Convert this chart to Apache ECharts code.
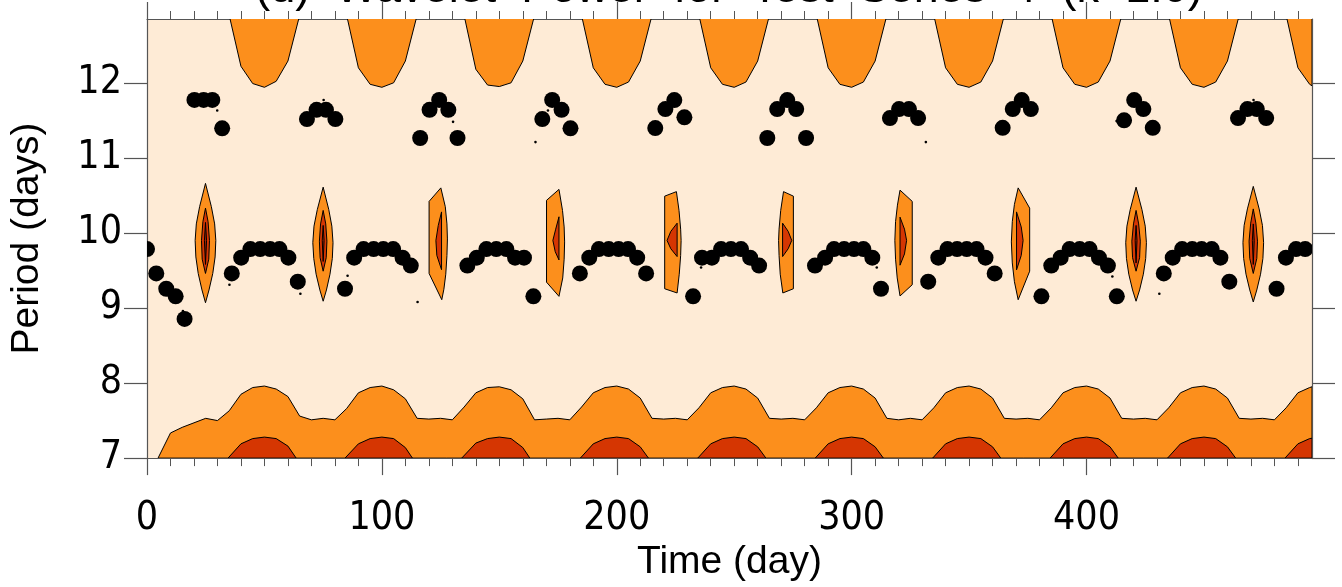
<!DOCTYPE html>
<html><head><meta charset="utf-8">
<script src="https://cdn.jsdelivr.net/npm/echarts@6/dist/echarts.min.js"></script>
<style>html,body{margin:0;padding:0;background:#fff}#c{width:1342px;height:587px}</style>
</head><body><div id="c"></div>
<script>
// ---------------- data ----------------
const titleText = '(d)  Wavelet  Power  for  Test  Series  4  (k=1.0)';
const xTicks = [0, 100, 200, 300, 400];
const yTicks = [7, 8, 9, 10, 11, 12];
const timeMax = 496;
const periodMin = 7, periodMax = 12.85;

// lower orange contour (level 1): boundary time / period
const lowBandT = [4.7,10,15,20,25,30,35,40,45,50,55,60,65,70,75,80,85,90,95,100,105,110,115,120,125,130,135,140,145,150,155,160,165,170,175,180,185,190,195,200,205,210,215,220,225,230,235,240,245,250,255,260,265,270,275,280,285,290,295,300,305,310,315,320,325,330,335,340,345,350,355,360,365,370,375,380,385,390,395,400,405,410,415,420,425,430,435,440,445,450,455,460,465,470,475,480,485,490,495,496];
const lowBandP = [7.0,7.335,7.41,7.47,7.53,7.50,7.63,7.85,7.94,7.96,7.92,7.82,7.56,7.51,7.53,7.51,7.66,7.87,7.94,7.96,7.91,7.79,7.53,7.52,7.53,7.51,7.68,7.87,7.94,7.95,7.91,7.79,7.51,7.52,7.53,7.51,7.68,7.87,7.94,7.96,7.92,7.80,7.53,7.52,7.53,7.51,7.67,7.87,7.94,7.96,7.92,7.80,7.53,7.52,7.53,7.51,7.67,7.87,7.94,7.96,7.92,7.80,7.53,7.51,7.53,7.51,7.67,7.87,7.94,7.96,7.92,7.80,7.53,7.52,7.53,7.51,7.67,7.87,7.94,7.96,7.92,7.80,7.53,7.52,7.53,7.51,7.67,7.87,7.94,7.96,7.92,7.80,7.53,7.52,7.53,7.51,7.67,7.87,7.94,7.95];

// lower dark-red contour (level 2) humps: [t,p, t,p, ...]
const lowHumps = [
  [34.5,7, 40,7.19, 45,7.26, 50,7.28, 55,7.26, 60,7.16, 63.5,7],
  [84.3,7, 90,7.19, 95,7.26, 100,7.28, 105,7.26, 110,7.14, 113,7],
  [134,7, 140,7.2, 145,7.26, 150,7.28, 155,7.26, 160,7.14, 163,7],
  [184.5,7, 190,7.19, 195,7.26, 200,7.28, 205,7.26, 210,7.15, 213.5,7],
  [234.5,7, 240,7.19, 245,7.26, 250,7.28, 255,7.26, 260,7.15, 263.5,7],
  [284.5,7, 290,7.19, 295,7.26, 300,7.28, 305,7.26, 310,7.15, 313.5,7],
  [334.5,7, 340,7.19, 345,7.26, 350,7.28, 355,7.26, 360,7.15, 363.5,7],
  [384.5,7, 390,7.19, 395,7.26, 400,7.28, 405,7.26, 410,7.15, 413.5,7],
  [434.5,7, 440,7.19, 445,7.26, 450,7.28, 455,7.26, 460,7.15, 463.5,7],
  [484.5,7, 490,7.19, 495,7.26, 496,7.265, 496,7]
];

// upper orange contour (level 1) lobes hanging from the top
const topLobes = [
  [35,12.9, 40,12.22, 45,11.99, 50,11.94, 55,12.02, 60,12.29, 65,12.9],
  [85,12.9, 90,12.2, 95,11.98, 100,11.94, 105,12.0, 110,12.29, 115,12.9],
  [135,12.9, 140,12.18, 145,11.97, 150,11.95, 155,12.0, 160,12.29, 165,12.9],
  [185,12.9, 190,12.2, 195,11.98, 200,11.94, 205,12.01, 210,12.29, 215,12.9],
  [235,12.9, 240,12.2, 245,11.98, 250,11.94, 255,12.01, 260,12.29, 265,12.9],
  [285,12.9, 290,12.2, 295,11.98, 300,11.94, 305,12.01, 310,12.29, 315,12.9],
  [335,12.9, 340,12.2, 345,11.98, 350,11.94, 355,12.01, 360,12.29, 365,12.9],
  [385,12.9, 390,12.2, 395,11.98, 400,11.94, 405,12.01, 410,12.29, 415,12.9],
  [435,12.9, 440,12.2, 445,11.98, 450,11.94, 455,12.01, 460,12.29, 465,12.9],
  [485,12.9, 490,12.2, 495,11.98, 496,11.96, 496,12.9]
];

// mid-period islands, level 1 (orange)
const islands1 = [
  [24.9,10.66, 27.4,10.35, 28.8,10.12, 29.3,9.9, 29.0,9.68, 28.0,9.46, 26.4,9.24, 24.9,9.07, 23.4,9.24, 21.8,9.46, 20.8,9.68, 20.5,9.9, 21.0,10.12, 22.4,10.35],
  [75.0,10.61, 77.4,10.31, 78.7,10.09, 79.2,9.87, 78.9,9.66, 77.9,9.45, 76.4,9.24, 75.0,9.09, 73.6,9.24, 72.0,9.45, 71.0,9.66, 70.6,9.87, 71.1,10.09, 72.5,10.31],
  [125.1,10.6, 127.0,10.35, 127.7,10.12, 127.9,9.92, 127.7,9.7, 127.2,9.45, 126.4,9.25, 125.5,9.11, 120.1,9.46, 120.1,10.42],
  [175.4,10.58, 176.9,10.3, 177.6,10.08, 177.8,9.88, 177.6,9.65, 177.0,9.4, 175.4,9.155, 170.1,9.344, 170.1,10.434],
  [225.4,10.55, 226.5,10.3, 227.2,10.05, 227.4,9.9, 227.2,9.7, 226.6,9.45, 225.7,9.2, 220.4,9.256, 220.4,10.49],
  [271.0,10.55, 275.2,10.49, 275.2,9.256, 270.7,9.2, 269.6,9.45, 269.1,9.7, 268.9,9.9, 269.1,10.05, 269.8,10.3],
  [320.6,10.57, 325.8,10.42, 325.8,9.31, 320.6,9.16, 319.4,9.4, 318.7,9.65, 318.4,9.9, 318.7,10.15, 319.5,10.37],
  [370.9,10.6, 375.8,10.33, 375.8,9.49, 370.9,9.11, 369.3,9.35, 368.4,9.6, 368.0,9.88, 368.4,10.15, 369.3,10.38],
  [421.1,10.61, 423.6,10.31, 425.0,10.09, 425.5,9.87, 425.2,9.66, 424.2,9.45, 422.6,9.24, 421.1,9.09, 419.6,9.24, 418.0,9.45, 417.0,9.66, 416.7,9.87, 417.2,10.09, 418.6,10.31],
  [471.0,10.62, 473.5,10.32, 474.9,10.1, 475.4,9.87, 475.1,9.66, 474.1,9.45, 472.5,9.24, 471.0,9.08, 469.5,9.24, 467.9,9.45, 466.9,9.66, 466.6,9.87, 467.1,10.1, 468.5,10.32]
];
// level 2 (red)
const islands2 = [
  [24.9,10.33, 26.0,10.15, 26.6,9.9, 26.3,9.65, 24.9,9.46, 23.5,9.65, 23.2,9.9, 23.8,10.15],
  [75.0,10.30, 76.1,10.12, 76.6,9.89, 76.3,9.67, 75.0,9.49, 73.7,9.67, 73.4,9.89, 73.9,10.12],
  [125.4,10.28, 124.0,10.1, 123.0,9.9, 123.4,9.7, 125.4,9.51],
  [175.4,10.215, 174.0,10.05, 172.8,9.9, 173.8,9.75, 175.4,9.64],
  [225.7,10.13, 223.0,10.02, 221.4,9.9, 223.0,9.79, 225.7,9.685],
  [270.6,10.13, 273.0,10.02, 274.5,9.9, 273.0,9.79, 270.6,9.685],
  [320.6,10.21, 322.5,10.05, 323.4,9.9, 322.5,9.72, 320.6,9.57],
  [370.2,10.28, 372.2,10.08, 373.0,9.9, 372.2,9.7, 370.2,9.507],
  [421.1,10.30, 422.2,10.12, 422.9,9.89, 422.6,9.67, 421.1,9.49, 419.6,9.67, 419.3,9.89, 420.0,10.12],
  [471.0,10.32, 472.1,10.13, 472.8,9.89, 472.5,9.66, 471.0,9.46, 469.5,9.66, 469.2,9.89, 469.9,10.13]
];
// level 3 (dark core)
const islands3 = [
  [24.9,10.14, 25.35,9.9, 24.9,9.58, 24.45,9.9],
  [75.0,10.1, 75.4,9.9, 75.0,9.62, 74.6,9.9],
  [421.1,10.1, 421.5,9.9, 421.1,9.6, 420.7,9.9],
  [471.0,10.12, 471.4,9.9, 471.0,9.58, 470.6,9.9]
];

// local maxima of wavelet power (large dots): time, period
const maxT = [0.0,3.95,8.2,12.2,16.0,36.1,40.1,44.0,48.2,52.4,56.4,60.2,64.2,84.3,88.2,92.2,96.5,100.6,104.8,108.8,112.3,136.4,140.4,144.5,148.7,153.0,156.7,160.5,164.5,184.3,188.3,192.4,196.6,200.8,204.8,208.7,212.5,232.5,236.3,240.5,244.4,248.6,252.9,256.8,260.6,284.4,288.7,292.5,296.8,301.0,305.0,308.8,312.5,332.6,336.9,340.8,344.9,349.0,353.2,357.0,360.9,380.8,385.0,389.0,392.8,397.1,401.3,405.3,409.1,412.9,432.9,436.7,440.7,445.0,449.0,453.3,457.0,460.8,480.9,484.9,489.2,493.1,
  20.2,24.1,27.8,32.0,68.1,72.2,76.2,80.2,116.3,120.3,124.4,128.3,132.2,168.3,172.5,176.5,180.3,216.4,220.7,224.5,228.8,264.1,268.3,272.6,276.4,280.6,316.3,320.2,324.4,328.3,364.3,368.6,372.4,376.3,416.0,420.3,424.2,428.2,464.5,468.5,472.5,476.5];
const maxP = [9.785,9.46,9.256,9.155,8.854,9.46,9.67,9.785,9.785,9.785,9.785,9.67,9.35,9.256,9.67,9.785,9.785,9.785,9.785,9.67,9.565,9.565,9.67,9.785,9.785,9.785,9.67,9.67,9.155,9.46,9.67,9.785,9.785,9.785,9.785,9.67,9.46,9.155,9.67,9.67,9.785,9.785,9.785,9.67,9.565,9.565,9.67,9.785,9.785,9.785,9.785,9.67,9.256,9.35,9.67,9.785,9.785,9.785,9.785,9.67,9.46,9.155,9.565,9.67,9.785,9.785,9.785,9.67,9.565,9.155,9.46,9.67,9.785,9.785,9.785,9.785,9.67,9.35,9.256,9.67,9.785,9.785,
  11.772,11.772,11.772,11.393,11.517,11.64,11.64,11.517,11.265,11.64,11.772,11.64,11.265,11.517,11.772,11.64,11.393,11.397,11.65,11.77,11.54,11.265,11.65,11.77,11.65,11.265,11.53,11.65,11.65,11.53,11.40,11.65,11.77,11.65,11.50,11.77,11.65,11.40,11.53,11.65,11.65,11.53];
// weak maxima (tiny dots)
const minorT = [29.9,75.2,130.3,165.4,170.7,15.3,35.1,65.3,85.4,115.2,235.9,310.7,411.0,431.0,331.6,471.1,412.8];
const minorP = [11.63,11.77,11.48,11.21,11.63,8.96,9.31,9.19,9.43,9.08,9.54,9.54,9.42,9.19,11.21,11.77,11.49];

// ---------------- chart ----------------
const C_BG = '#FEEBD6', C_L1 = '#FC8F1C', C_L2 = '#D53602', C_L3 = '#A52504';
const FONT = '"Liberation Sans", Arial, sans-serif';
const DIGITS = '"Liberation Sans Narrow", "DejaVu Sans Condensed", "Liberation Sans", sans-serif';

const lowBandPoly = [lowBandT[0], periodMin];
lowBandT.forEach((t, i) => lowBandPoly.push(t, lowBandP[i]));
lowBandPoly.push(timeMax, periodMin);

function polySeries(polys, fill, z) {
  return {
    type: 'custom', coordinateSystem: 'cartesian2d', clip: true, silent: true, z: z,
    data: polys.map((p, i) => [p[0], p[1], i]),
    renderItem: function (params, api) {
      const p = polys[params.dataIndex];
      const pts = [];
      for (let k = 0; k < p.length; k += 2) pts.push(api.coord([p[k], p[k + 1]]));
      return { type: 'polygon', shape: { points: pts }, style: { fill: fill, stroke: '#000', lineWidth: 1 } };
    }
  };
}
function dotSeries(ts, ps, r, z) {
  return {
    type: 'custom', coordinateSystem: 'cartesian2d', clip: true, silent: true, z: z,
    data: ts.map((t, i) => [t, ps[i]]),
    renderItem: function (params, api) {
      const c = api.coord([api.value(0), api.value(1)]);
      return { type: 'circle', shape: { cx: c[0], cy: c[1], r: r }, style: { fill: '#000' } };
    }
  };
}

const axisLineStyle = { color: '#555', width: 1.2 };
const xAxisBase = {
  type: 'value', min: 0, max: timeMax, interval: 100,
  axisLine: { show: true, onZero: false, lineStyle: axisLineStyle },
  axisTick: { show: true, inside: false, length: 17, customValues: xTicks, lineStyle: { color: '#555', width: 1.2 } },
  minorTick: { show: true, splitNumber: 10, length: 8, lineStyle: { color: '#555', width: 1 } },
  splitLine: { show: false }, minorSplitLine: { show: false }
};
const yAxisBase = {
  type: 'value', min: periodMin, max: periodMax, interval: 1,
  axisLine: { show: true, onZero: false, lineStyle: axisLineStyle },
  axisTick: { show: true, inside: false, length: 23, customValues: yTicks, lineStyle: { color: '#555', width: 1.2 } },
  splitLine: { show: false }
};

const option = {
  animation: false,
  backgroundColor: '#fff',
  grid: { left: 146, right: 30, top: 19, bottom: 126, show: true, backgroundColor: C_BG, borderWidth: 0 },
  graphic: [{ type: 'text', x: 729, y: -33, z: 100,
    style: { text: titleText, font: '45px ' + FONT, fill: '#000', align: 'center', verticalAlign: 'top' } }],
  xAxis: [
    Object.assign({}, xAxisBase, { position: 'bottom', name: 'Time (day)', nameLocation: 'middle', nameGap: 76,
      nameTextStyle: { fontFamily: FONT, fontSize: 39, color: '#000' },
      axisLabel: { show: true, customValues: xTicks, margin: 41, fontFamily: DIGITS, fontSize: 39, color: '#000' } }),
    Object.assign({}, xAxisBase, { position: 'top', axisLabel: { show: false } })
  ],
  yAxis: [
    Object.assign({}, yAxisBase, { position: 'left', name: 'Period (days)', nameLocation: 'middle', nameGap: 100, nameRotate: 90,
      nameTextStyle: { fontFamily: FONT, fontSize: 39, color: '#000' },
      axisLabel: { show: true, customValues: yTicks, margin: 25, fontFamily: DIGITS, fontSize: 39, color: '#000' } }),
    Object.assign({}, yAxisBase, { position: 'right', axisLabel: { show: false } })
  ],
  series: [
    polySeries([lowBandPoly], C_L1, 1),
    polySeries(lowHumps, C_L2, 2),
    polySeries(topLobes, C_L1, 2),
    polySeries(islands1, C_L1, 3),
    polySeries(islands2, C_L2, 4),
    polySeries(islands3, C_L3, 5),
    dotSeries(maxT, maxP, 8, 6),
    dotSeries(minorT, minorP, 1.3, 6)
  ]
};
const chart = echarts.init(document.getElementById('c'), null, { renderer: 'canvas' });
chart.setOption(option);
</script>
</body></html>
